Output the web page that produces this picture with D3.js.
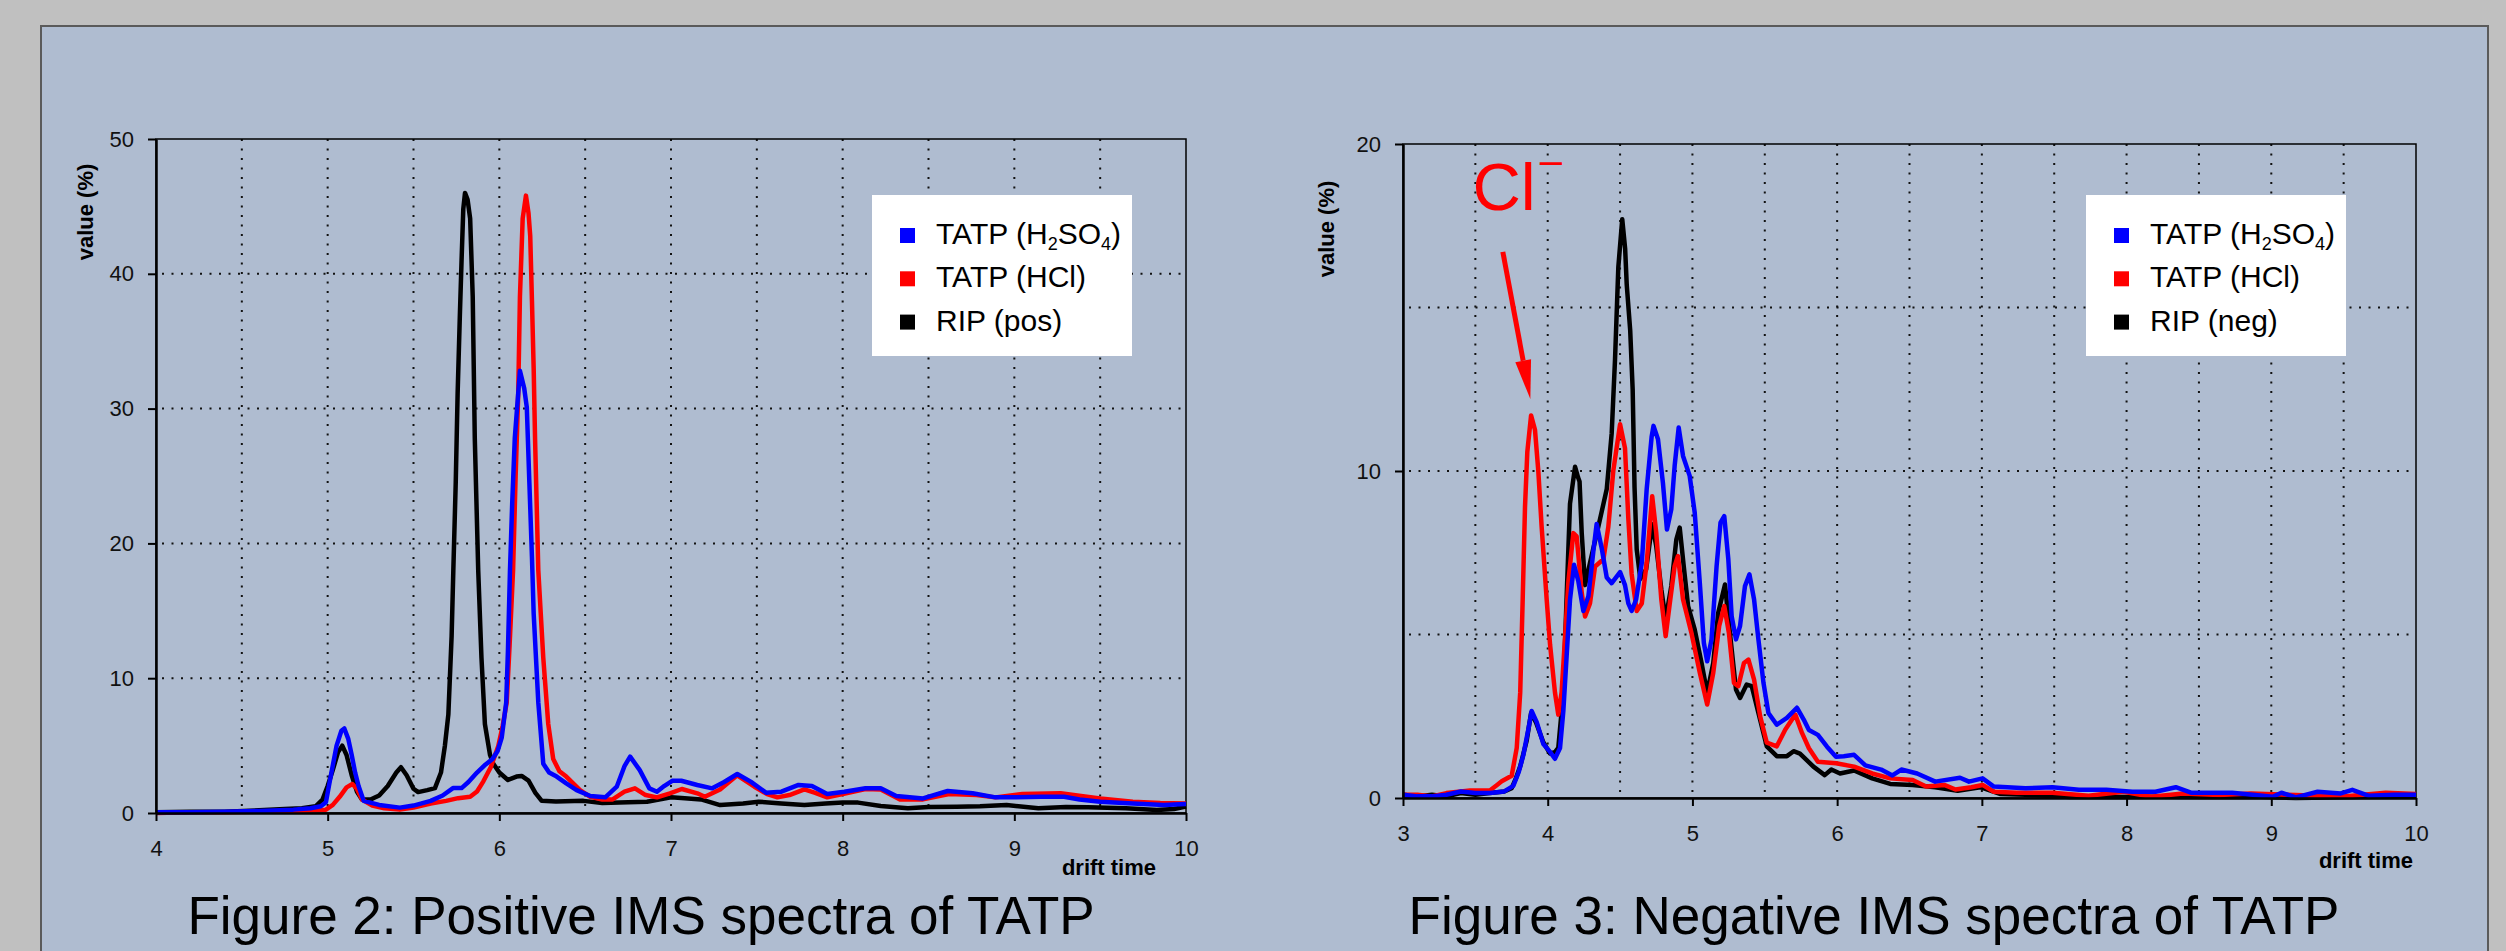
<!DOCTYPE html>
<html>
<head>
<meta charset="utf-8">
<title>IMS spectra of TATP</title>
<style>
html, body { margin:0; padding:0; overflow:hidden; background-color:#c0c0c0; }
svg { display:block; font-family:"Liberation Sans", Arial, sans-serif; }
</style>
</head>
<body>
<svg id="stage" width="2506" height="951"></svg>

<script src="https://d3js.org/d3.v7.min.js"></script>
<script>

// ---- data: [drift time, value %] ----

var posH2SO4 = [[4.0,0.05],[4.2,0.05],[4.4,0.1],[4.6,0.15],[4.8,0.25],[4.9,0.35],[4.96,0.5],[4.99,0.8],[5.013,2.4],[5.052,5.0],[5.08,6.1],[5.097,6.27],[5.12,5.5],[5.14,4.3],[5.16,3.0],[5.18,2.0],[5.21,0.9],[5.3,0.6],[5.42,0.4],[5.5,0.55],[5.6,0.9],[5.67,1.3],[5.73,1.85],[5.78,1.85],[5.82,2.3],[5.87,3.0],[5.92,3.6],[5.96,4.0],[5.99,4.6],[6.014,5.6],[6.04,8.2],[6.05,12],[6.062,18],[6.075,23],[6.09,27.8],[6.12,32.8],[6.145,31.5],[6.16,30.1],[6.175,24.5],[6.19,19],[6.2,14.8],[6.227,8.2],[6.256,3.65],[6.29,3.0],[6.334,2.7],[6.39,2.2],[6.45,1.7],[6.53,1.26],[6.617,1.16],[6.684,1.95],[6.73,3.5],[6.762,4.18],[6.818,3.18],[6.874,1.83],[6.918,1.58],[6.96,2.0],[7.007,2.39],[7.06,2.39],[7.153,2.08],[7.24,1.83],[7.31,2.3],[7.386,2.89],[7.464,2.33],[7.553,1.51],[7.643,1.58],[7.743,2.08],[7.821,2.0],[7.91,1.41],[8.01,1.58],[8.133,1.83],[8.222,1.83],[8.312,1.26],[8.468,1.08],[8.612,1.63],[8.757,1.46],[8.89,1.16],[9.0,1.16],[9.16,1.21],[9.29,1.21],[9.38,1.0],[9.5,0.84],[9.69,0.71],[9.87,0.59],[10.0,0.66]];

var posHCl = [[4.0,0.0],[4.2,0.05],[4.4,0.05],[4.6,0.1],[4.8,0.15],[4.9,0.2],[4.99,0.25],[5.03,0.6],[5.07,1.2],[5.11,1.9],[5.144,2.15],[5.17,1.8],[5.2,1.0],[5.26,0.55],[5.33,0.35],[5.42,0.25],[5.5,0.4],[5.6,0.7],[5.69,0.9],[5.76,1.1],[5.83,1.2],[5.87,1.6],[5.907,2.35],[5.95,3.4],[5.994,4.97],[6.02,6.5],[6.043,8.2],[6.06,12.5],[6.08,18],[6.095,25],[6.11,31.1],[6.12,38.3],[6.136,44.1],[6.155,45.8],[6.17,44.5],[6.18,42.8],[6.19,38],[6.2,33],[6.208,27.8],[6.227,18],[6.256,11.5],[6.285,6.6],[6.314,4.0],[6.35,3.1],[6.39,2.7],[6.43,2.2],[6.47,1.7],[6.53,1.2],[6.6,1.0],[6.66,1.01],[6.729,1.58],[6.79,1.83],[6.852,1.33],[6.918,1.16],[6.994,1.46],[7.063,1.78],[7.153,1.46],[7.197,1.21],[7.286,1.75],[7.386,2.8],[7.486,1.95],[7.56,1.4],[7.62,1.16],[7.69,1.33],[7.777,1.75],[7.84,1.5],[7.91,1.16],[8.0,1.41],[8.133,1.78],[8.222,1.75],[8.334,1.01],[8.468,1.01],[8.62,1.41],[8.78,1.33],[8.89,1.16],[9.047,1.41],[9.27,1.46],[9.4,1.25],[9.5,1.08],[9.69,0.84],[9.85,0.75],[10.0,0.71]];

var posRIP = [[4.0,0.05],[4.2,0.1],[4.4,0.1],[4.6,0.2],[4.75,0.3],[4.85,0.35],[4.93,0.5],[4.97,1.0],[5.0,2.0],[5.03,3.2],[5.06,4.5],[5.085,5.0],[5.11,4.3],[5.14,2.8],[5.17,1.6],[5.2,1.0],[5.25,1.0],[5.3,1.3],[5.35,2.0],[5.4,3.0],[5.427,3.4],[5.46,2.8],[5.5,1.8],[5.527,1.55],[5.58,1.7],[5.625,1.85],[5.66,3.0],[5.683,5.0],[5.703,7.3],[5.722,13.1],[5.732,18],[5.746,24.5],[5.757,31.1],[5.77,36.9],[5.78,41],[5.79,44.8],[5.80,46],[5.815,45.5],[5.83,44.1],[5.845,38.3],[5.857,27.8],[5.877,18],[5.896,11.5],[5.916,6.6],[5.946,4.3],[5.965,3.65],[6.0,3.0],[6.05,2.45],[6.1,2.7],[6.13,2.75],[6.17,2.4],[6.21,1.5],[6.247,0.9],[6.33,0.85],[6.49,0.9],[6.6,0.75],[6.75,0.79],[6.86,0.84],[7.0,1.16],[7.08,1.1],[7.175,1.01],[7.286,0.59],[7.42,0.71],[7.51,0.84],[7.643,0.71],[7.777,0.59],[7.9,0.7],[8.0,0.77],[8.09,0.77],[8.222,0.52],[8.38,0.35],[8.5,0.45],[8.665,0.47],[8.8,0.5],[8.955,0.59],[9.14,0.35],[9.3,0.45],[9.43,0.42],[9.65,0.35],[9.83,0.22],[9.93,0.3],[10.0,0.47]];

var negH2SO4 = [[3.0,0.1],[3.1,0.05],[3.2,0.05],[3.3,0.1],[3.4,0.2],[3.5,0.15],[3.6,0.15],[3.7,0.2],[3.762,0.37],[3.8,0.8],[3.831,1.3],[3.866,2.1],[3.889,2.66],[3.924,2.32],[3.97,1.65],[4.016,1.41],[4.05,1.2],[4.085,1.53],[4.108,2.66],[4.131,4.36],[4.154,6.06],[4.182,7.13],[4.212,6.62],[4.246,5.72],[4.281,6.17],[4.315,7.53],[4.338,8.38],[4.373,7.64],[4.408,6.74],[4.442,6.57],[4.5,6.91],[4.534,6.51],[4.557,5.95],[4.58,5.72],[4.611,6.07],[4.65,7.19],[4.684,9.45],[4.718,11.04],[4.731,11.38],[4.762,10.97],[4.796,9.64],[4.824,8.21],[4.854,8.83],[4.877,10.15],[4.905,11.33],[4.935,10.46],[4.981,9.85],[5.016,8.72],[5.051,6.58],[5.079,4.74],[5.102,4.18],[5.132,4.85],[5.167,7.09],[5.194,8.42],[5.22,8.62],[5.248,7.3],[5.271,5.56],[5.301,4.85],[5.329,5.26],[5.363,6.48],[5.394,6.84],[5.426,6.07],[5.456,4.85],[5.491,3.52],[5.525,2.6],[5.583,2.24],[5.653,2.45],[5.722,2.76],[5.769,2.4],[5.805,2.08],[5.867,1.93],[5.93,1.57],[5.992,1.26],[6.046,1.28],[6.117,1.32],[6.195,1.0],[6.304,0.87],[6.382,0.69],[6.444,0.87],[6.553,0.75],[6.678,0.5],[6.849,0.62],[6.911,0.5],[7.005,0.6],[7.083,0.35],[7.301,0.3],[7.488,0.33],[7.67,0.25],[7.86,0.25],[8.04,0.19],[8.2,0.19],[8.34,0.33],[8.45,0.16],[8.73,0.16],[9.01,0.04],[9.07,0.16],[9.17,0.02],[9.32,0.19],[9.48,0.14],[9.56,0.25],[9.67,0.07],[9.85,0.1],[10.0,0.1]];

var negHCl = [[3.0,0.1],[3.1,0.1],[3.2,0.05],[3.3,0.15],[3.4,0.2],[3.463,0.23],[3.6,0.23],[3.65,0.4],[3.682,0.51],[3.751,0.68],[3.786,1.53],[3.81,3.23],[3.827,6.06],[3.843,8.89],[3.859,10.58],[3.885,11.7],[3.912,11.26],[3.935,10.0],[3.958,8.3],[3.993,6.06],[4.016,4.7],[4.05,3.23],[4.073,2.55],[4.096,3.23],[4.12,4.93],[4.143,6.62],[4.177,8.1],[4.2,8.0],[4.235,6.28],[4.258,5.55],[4.292,5.95],[4.327,7.08],[4.385,7.3],[4.419,8.3],[4.453,10.0],[4.5,11.43],[4.534,10.7],[4.557,8.55],[4.58,6.85],[4.615,5.72],[4.65,5.95],[4.684,7.19],[4.722,9.23],[4.75,8.11],[4.785,6.07],[4.815,4.95],[4.847,6.07],[4.877,7.09],[4.9,7.4],[4.935,6.07],[4.993,5.05],[5.051,3.83],[5.102,2.86],[5.144,3.83],[5.185,5.26],[5.22,5.87],[5.252,5.05],[5.287,3.52],[5.317,3.42],[5.356,4.13],[5.387,4.23],[5.426,3.62],[5.468,2.5],[5.514,1.69],[5.583,1.58],[5.641,2.09],[5.711,2.55],[5.757,1.99],[5.805,1.52],[5.867,1.11],[5.992,1.06],[6.117,0.96],[6.242,0.75],[6.367,0.6],[6.522,0.55],[6.615,0.35],[6.74,0.4],[6.818,0.26],[6.927,0.33],[7.005,0.4],[7.083,0.19],[7.24,0.16],[7.488,0.16],[7.737,0.07],[7.98,0.19],[8.17,0.04],[8.39,0.14],[8.64,0.09],[8.86,0.14],[9.17,0.09],[9.48,0.04],[9.79,0.16],[10.0,0.12]];

var negRIP = [[3.0,0.1],[3.1,0.05],[3.2,0.1],[3.3,0.05],[3.4,0.15],[3.5,0.1],[3.6,0.15],[3.7,0.2],[3.751,0.3],[3.78,0.6],[3.81,0.97],[3.855,1.76],[3.885,2.6],[3.92,2.3],[3.97,1.7],[4.016,1.36],[4.05,1.4],[4.073,1.53],[4.108,3.23],[4.13,6.06],[4.154,9.0],[4.189,10.13],[4.21,9.8],[4.22,9.68],[4.235,8.1],[4.258,6.51],[4.292,7.19],[4.35,8.3],[4.408,9.45],[4.442,11.15],[4.465,13.4],[4.488,16.24],[4.515,17.7],[4.535,16.8],[4.546,15.7],[4.57,14.3],[4.587,12.5],[4.6,9.5],[4.615,7.6],[4.64,6.7],[4.68,6.99],[4.722,8.37],[4.75,7.7],[4.785,6.38],[4.815,5.46],[4.854,6.48],[4.889,7.91],[4.912,8.27],[4.94,7.09],[4.97,5.87],[5.016,5.15],[5.063,4.13],[5.102,3.21],[5.144,4.13],[5.178,5.66],[5.225,6.53],[5.259,5.05],[5.301,3.32],[5.329,3.06],[5.375,3.47],[5.41,3.42],[5.456,2.6],[5.514,1.58],[5.583,1.28],[5.653,1.28],[5.699,1.43],[5.743,1.36],[5.836,0.96],[5.914,0.7],[5.96,0.87],[6.02,0.75],[6.117,0.84],[6.242,0.6],[6.367,0.43],[6.522,0.4],[6.678,0.33],[6.833,0.22],[6.989,0.33],[7.13,0.12],[7.301,0.1],[7.61,0.03],[7.92,0.03],[8.23,0.04],[8.54,0.03],[8.86,0.04],[9.17,0.0],[9.64,0.03],[10.0,0.04]];

var posLabels = ["TATP (H2SO4)", "TATP (HCl)", "RIP (pos)"];
var negLabels = ["TATP (H2SO4)", "TATP (HCl)", "RIP (neg)"];
var posTicksY = [0, 10, 20, 30, 40, 50];
var negTicksY = [0, 10, 20];
var posTicksX = [4, 5, 6, 7, 8, 9, 10];
var negTicksX = [3, 4, 5, 6, 7, 8, 9, 10];
var titles = ["Figure 2: Positive IMS spectra of TATP", "Figure 3: Negative IMS spectra of TATP"];
var clNote = { text: "Cl", t: 3.48, v: 17.98, tailT: 3.69, tailV: 16.7, tipT: 3.88, tipV: 12.2 };

var colors = ["#0000ff", "#ff0000", "#000000"];

// ---- drawing ----
var svg = d3.select("#stage");

svg.append("rect")
  .attr("x", 41).attr("y", 26).attr("width", 2447).attr("height", 950)
  .attr("fill", "#afbcd0").attr("stroke", "#5a5a5a").attr("stroke-width", 2);

function drawChart(cfg) {
  var x = d3.scaleLinear().domain(cfg.xDom).range([cfg.left, cfg.right]);
  var y = d3.scaleLinear().domain(cfg.yDom).range([cfg.bottom, cfg.top]);
  var g = svg.append("g");

  // dotted grid
  var vg = d3.range(cfg.xDom[0] + 0.5, cfg.xDom[1], 0.5);
  g.selectAll(".vg").data(vg).enter().append("line")
    .attr("x1", x).attr("x2", x).attr("y1", cfg.top).attr("y2", cfg.bottom)
    .attr("stroke", "#111").attr("stroke-width", 2).attr("stroke-dasharray", "2,7.5");
  var hg = d3.range(cfg.yDom[0] + cfg.gridStep, cfg.yDom[1], cfg.gridStep);
  g.selectAll(".hg").data(hg).enter().append("line")
    .attr("y1", y).attr("y2", y).attr("x1", cfg.left + 6).attr("x2", cfg.right)
    .attr("stroke", "#111").attr("stroke-width", 2).attr("stroke-dasharray", "2,7.5");

  g.append("rect")
    .attr("x", cfg.left).attr("y", cfg.top)
    .attr("width", cfg.right - cfg.left).attr("height", cfg.bottom - cfg.top)
    .attr("fill", "none").attr("stroke", "#000").attr("stroke-width", 1.5);

  // spectra, black first so blue ends on top
  var line = d3.line().x(function(d) { return x(d[0]); }).y(function(d) { return y(d[1]); });
  [2, 1, 0].forEach(function(i) {
    g.append("path").datum(cfg.series[i])
      .attr("d", line).attr("fill", "none")
      .attr("stroke", colors[i]).attr("stroke-width", 4.5)
      .attr("stroke-linejoin", "round");
  });

  // axes
  var ax = g.append("g").attr("transform", "translate(0," + cfg.bottom + ")")
    .call(d3.axisBottom(x).tickValues(cfg.ticksX).tickFormat(d3.format("d"))
      .tickSize(8).tickSizeOuter(0).tickPadding(19));
  var ay = g.append("g").attr("transform", "translate(" + cfg.left + ",0)")
    .call(d3.axisLeft(y).tickValues(cfg.ticksY).tickFormat(d3.format("d"))
      .tickSize(8).tickSizeOuter(0).tickPadding(14));
  [ax, ay].forEach(function(a) {
    a.select(".domain").attr("stroke", "#000").attr("stroke-width", 2.5);
    a.selectAll(".tick line").attr("stroke", "#000").attr("stroke-width", 2);
    a.selectAll(".tick text").attr("font-size", 22).attr("fill", "#111")
      .attr("font-family", "'Liberation Sans', Arial, sans-serif");
  });

  g.append("text")
    .attr("transform", "translate(" + cfg.yLab[0] + "," + cfg.yLab[1] + ") rotate(-90)")
    .attr("text-anchor", "middle").attr("dy", "0.35em")
    .attr("font-size", 22).attr("font-weight", "bold").text("value (%)");
  g.append("text")
    .attr("x", cfg.xLab[0]).attr("y", cfg.xLab[1]).attr("text-anchor", "end")
    .attr("font-size", 22).attr("font-weight", "bold").text("drift time");

  // legend
  var lg = g.append("g").attr("transform", "translate(" + cfg.legend[0] + "," + cfg.legend[1] + ")");
  lg.append("rect").attr("width", 260).attr("height", 161).attr("fill", "#fff");
  cfg.labels.forEach(function(lab, i) {
    var cy = 40.5 + i * 43.3;
    lg.append("rect").attr("x", 28).attr("y", cy - 7.5).attr("width", 15).attr("height", 15)
      .attr("fill", colors[i]);
    var t = lg.append("text").attr("x", 64).attr("y", cy + 8.5).attr("font-size", 30).attr("fill", "#000");
    var sub = false;
    lab.split(/(\d)/).forEach(function(part) {
      if (!part) return;
      var isDigit = /\d/.test(part);
      t.append("tspan")
        .attr("font-size", isDigit ? 18 : null)
        .attr("dy", isDigit ? 6 : (sub ? -6 : 0))
        .text(part);
      sub = isDigit;
    });
  });

  g.append("text")
    .attr("x", cfg.titleAt[0]).attr("y", cfg.titleAt[1]).attr("text-anchor", "middle")
    .attr("font-size", 53).attr("fill", "#000").text(cfg.title);

  return { x: x, y: y, g: g };
}

drawChart({
  left: 156, right: 1186, top: 139, bottom: 813,
  xDom: [4, 10], yDom: [0, 50], gridStep: 10,
  ticksX: posTicksX, ticksY: posTicksY,
  series: [posH2SO4, posHCl, posRIP], labels: posLabels,
  legend: [872, 195], yLab: [85, 212], xLab: [1156, 875],
  titleAt: [641, 934], title: titles[0]
});

var neg = drawChart({
  left: 1403, right: 2416, top: 144, bottom: 798,
  xDom: [3, 10], yDom: [0, 20], gridStep: 5,
  ticksX: negTicksX, ticksY: negTicksY,
  series: [negH2SO4, negHCl, negRIP], labels: negLabels,
  legend: [2086, 195], yLab: [1326, 229], xLab: [2413, 868],
  titleAt: [1874, 934], title: titles[1]
});

// Cl- annotation with arrow
var nx = neg.x, ny = neg.y;
var cl = neg.g.append("text")
  .attr("x", nx(clNote.t)).attr("y", ny(clNote.v))
  .attr("font-size", 67).attr("fill", "#ff0000").text(clNote.text);
cl.append("tspan").attr("font-size", 40).attr("dx", 4).attr("dy", -36).text("\u2013");

var ax0 = nx(clNote.tailT), ay0 = ny(clNote.tailV), ax1 = nx(clNote.tipT), ay1 = ny(clNote.tipV);
var ang = Math.atan2(ay1 - ay0, ax1 - ax0), hl = 39, hw = 8;
var bx = ax1 - hl * Math.cos(ang), by = ay1 - hl * Math.sin(ang);
neg.g.append("line")
  .attr("x1", ax0).attr("y1", ay0).attr("x2", bx).attr("y2", by)
  .attr("stroke", "#ff0000").attr("stroke-width", 5);
neg.g.append("path")
  .attr("d", "M" + ax1 + "," + ay1 +
    "L" + (bx + hw * Math.sin(ang)) + "," + (by - hw * Math.cos(ang)) +
    "L" + (bx - hw * Math.sin(ang)) + "," + (by + hw * Math.cos(ang)) + "Z")
  .attr("fill", "#ff0000");

</script>
</body>
</html>
